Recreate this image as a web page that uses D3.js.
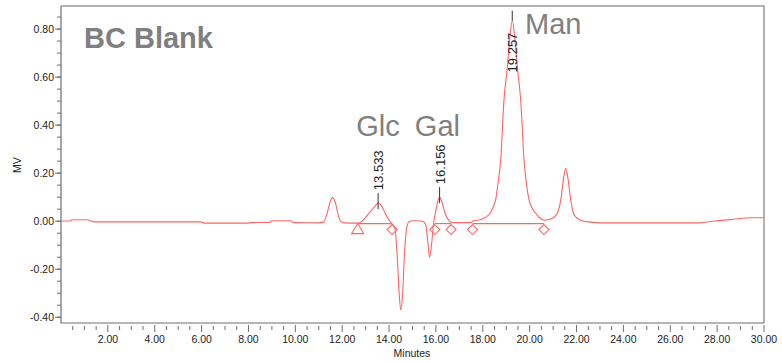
<!DOCTYPE html>
<html>
<head>
<meta charset="utf-8">
<script src="https://cdn.jsdelivr.net/npm/d3@7"></script>
<style>
  body { margin: 0; background: #fff; }
  text { font-family: "Liberation Sans", Arial, sans-serif; }
</style>
</head>
<body>
<div id="canvas"></div>
<script>
var w = 782;
var h = 363;

// chromatogram trace (minutes, MV)
var times = [0.00, 0.40, 0.45, 1.10, 1.40, 6.00, 6.10, 8.00, 8.10, 8.90, 9.00, 9.80, 9.90, 11.00,
  11.20, 11.35, 11.48, 11.59, 11.70, 11.82, 11.95, 12.10, 12.70, 12.90, 13.10, 13.25, 13.40, 13.53,
  13.65, 13.80, 13.95, 14.10, 14.25, 14.35, 14.43, 14.50, 14.58, 14.65, 14.75, 14.85, 15.00, 15.40,
  15.55, 15.65, 15.73, 15.82, 15.90, 16.00, 16.10, 16.16, 16.25, 16.40, 16.55, 16.70, 17.50, 17.60,
  17.90, 18.10, 18.30, 18.45, 18.55, 18.65, 18.76, 18.90, 19.05, 19.15, 19.26, 19.37, 19.47, 19.62,
  19.76, 19.87, 19.97, 20.10, 20.26, 20.45, 20.61, 20.80, 20.97, 21.18, 21.33, 21.45, 21.54, 21.63,
  21.75, 21.90, 22.18, 22.60, 23.00, 27.20, 27.90, 28.70, 29.45, 30.00];
var mv = [0.001, 0.001, 0.006, 0.006, -0.003, -0.003, -0.008, -0.008, -0.006, -0.005, 0.002, 0.002, -0.006, -0.007,
  -0.004, 0.030, 0.080, 0.098, 0.080, 0.030, -0.002, -0.007, -0.008, 0.004, 0.028, 0.045, 0.062, 0.075,
  0.068, 0.040, 0.012, -0.008, -0.030, -0.150, -0.300, -0.370, -0.300, -0.150, -0.030, -0.002, 0.002, 0.001,
  -0.010, -0.080, -0.150, -0.090, -0.010, 0.045, 0.090, 0.100, 0.082, 0.030, 0.004, -0.006, -0.006, 0.002,
  0.006, 0.015, 0.032, 0.060, 0.090, 0.160, 0.250, 0.500, 0.645, 0.760, 0.835, 0.760, 0.645, 0.500,
  0.255, 0.150, 0.090, 0.055, 0.033, 0.012, 0.004, 0.006, 0.012, 0.033, 0.090, 0.180, 0.220, 0.180,
  0.090, 0.025, 0.004, -0.004, -0.007, -0.007, 0.001, 0.008, 0.014, 0.014];

// integration baselines (start, end) and the markers on them
var baseStarts = [12.66, 15.95, 17.56];
var baseEnds = [14.13, 16.65, 20.61];
var baseLevel = -0.01;
var triangleTimes = [12.66];
var diamondTimes = [14.13, 15.95, 16.65, 17.56, 20.61];

// labelled peaks
var peakTimes = [13.533, 16.156, 19.257];
var peakHeights = [0.075, 0.100, 0.835];
var peakLabels = ["13.533", "16.156", "19.257"];

// big annotations
var names = ["Glc", "Gal", "Man"];
var nameTimes = [12.6, 15.1, 19.8];
var nameValues = [0.355, 0.355, 0.78];

var xTicks = [2, 4, 6, 8, 10, 12, 14, 16, 18, 20, 22, 24, 26, 28, 30];
var yTicks = [-0.4, -0.2, 0, 0.2, 0.4, 0.6, 0.8];

var mLeft = 61, mRight = 764, mTop = 6, mBottom = 323;

var svg = d3.select("#canvas").append("svg")
      .attr("width", w)
      .attr("height", h)
      .style("background-color", "white");

var x = d3.scaleLinear().domain([0, 30]).range([mLeft, mRight]);
var y = d3.scaleLinear().domain([-0.424, 0.896]).range([mBottom, mTop]);

var axisColor = "#6e6e6e";

// frame
svg.append("path")
   .attr("d", `M${mLeft},${mTop}H${mRight}V${mBottom}`)
   .attr("fill", "none")
   .attr("stroke", "#9a9a9a")
   .attr("stroke-width", 1.5);
svg.append("path")
   .attr("d", `M${mLeft},${mTop}V${mBottom}H${mRight}`)
   .attr("fill", "none")
   .attr("stroke", axisColor)
   .attr("stroke-width", 1.2);

// y ticks
d3.range(-0.4, 0.851, 0.05).forEach(function(v) {
    svg.append("line")
       .attr("x1", mLeft - 4).attr("x2", mLeft)
       .attr("y1", y(v)).attr("y2", y(v))
       .attr("stroke", axisColor);
});
yTicks.forEach(function(v) {
    svg.append("line")
       .attr("x1", mLeft - 6).attr("x2", mLeft)
       .attr("y1", y(v)).attr("y2", y(v))
       .attr("stroke", axisColor);
    svg.append("text")
       .attr("x", mLeft - 7)
       .attr("y", y(v) + 4)
       .attr("text-anchor", "end")
       .attr("font-size", "10.5px")
       .attr("fill", "#222")
       .text(v.toFixed(2).replace("-0.00", "0.00"));
});

// x ticks
d3.range(0.5, 30.01, 0.5).forEach(function(t) {
    var major = xTicks.indexOf(t) >= 0;
    svg.append("line")
       .attr("x1", x(t)).attr("x2", x(t))
       .attr("y1", mBottom + (major ? 2 : 3)).attr("y2", mBottom + (major ? 9 : 7))
       .attr("stroke", axisColor);
});
xTicks.forEach(function(t) {
    svg.append("text")
       .attr("x", x(t))
       .attr("y", mBottom + 20)
       .attr("text-anchor", "middle")
       .attr("font-size", "10.5px")
       .attr("fill", "#222")
       .text(t.toFixed(2));
});

svg.append("text")
   .attr("x", 412).attr("y", 357)
   .attr("text-anchor", "middle")
   .attr("font-size", "10.5px")
   .attr("fill", "#222")
   .text("Minutes");

svg.append("text")
   .attr("transform", "translate(21,165) rotate(-90)")
   .attr("text-anchor", "middle")
   .attr("font-size", "10.5px")
   .attr("fill", "#222")
   .text("MV");

var red = "#ff6464";

// baselines
baseStarts.forEach(function(s, i) {
    svg.append("line")
       .attr("x1", x(s)).attr("x2", x(baseEnds[i]))
       .attr("y1", y(baseLevel)).attr("y2", y(baseLevel))
       .attr("stroke", red)
       .attr("stroke-width", 1.1);
});

// trace
var pts = times.map((t, i) => [t, mv[i]]);
var line = d3.line()
    .x(d => x(d[0]))
    .y(d => y(d[1]))
    .curve(d3.curveMonotoneX);
svg.append("path")
   .datum(pts)
   .attr("d", line)
   .attr("fill", "none")
   .attr("stroke", red)
   .attr("stroke-width", 1.1);

// markers
triangleTimes.forEach(function(t) {
    var cx = x(t), ty = y(baseLevel);
    svg.append("path")
       .attr("d", `M${cx},${ty}L${cx + 6},${ty + 10}L${cx - 6},${ty + 10}Z`)
       .attr("fill", "none")
       .attr("stroke", red)
       .attr("stroke-width", 1.1);
});
diamondTimes.forEach(function(t) {
    var cx = x(t), cy = y(baseLevel) + 6;
    svg.append("path")
       .attr("d", `M${cx},${cy - 5}L${cx + 5},${cy}L${cx},${cy + 5}L${cx - 5},${cy}Z`)
       .attr("fill", "none")
       .attr("stroke", red)
       .attr("stroke-width", 1.1);
});

// peak labels
peakTimes.forEach(function(t, i) {
    var px = x(t), py = y(peakHeights[i]);
    var below = i == 2;
    svg.append("line")
       .attr("x1", px).attr("x2", px)
       .attr("y1", py - 10).attr("y2", below ? py : py + 6)
       .attr("stroke", "#333")
       .attr("stroke-width", 1);
    svg.append("text")
       .attr("transform", below
            ? `translate(${px + 5},${py + 12}) rotate(-90)`
            : `translate(${px + 5},${py - 13}) rotate(-90)`)
       .attr("text-anchor", below ? "end" : "start")
       .attr("font-size", "13px")
       .attr("fill", "#222")
       .text(peakLabels[i]);
});

// sugar names
names.forEach(function(n, i) {
    svg.append("text")
       .attr("x", x(nameTimes[i]))
       .attr("y", y(nameValues[i]))
       .attr("font-size", "29px")
       .attr("fill", "#808080")
       .text(n);
});

svg.append("text")
   .attr("x", 84).attr("y", 48)
   .attr("font-size", "29px")
   .attr("font-weight", "bold")
   .attr("fill", "#7f7f7f")
   .text("BC Blank");
</script>
</body>
</html>
